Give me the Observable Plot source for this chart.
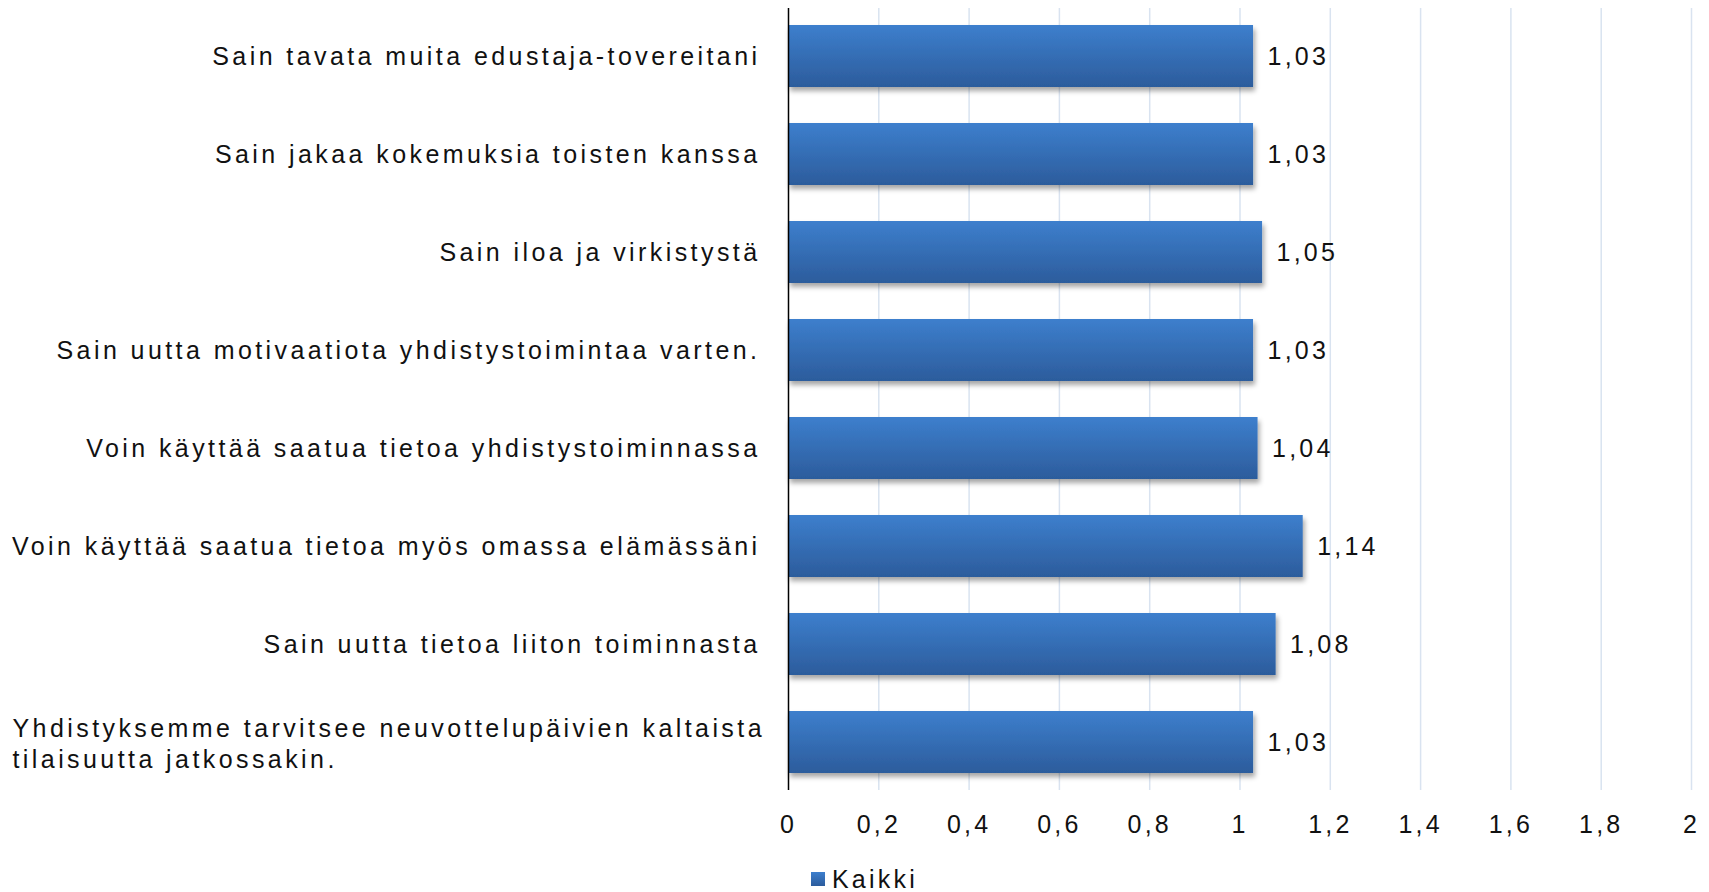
<!DOCTYPE html>
<html>
<head>
<meta charset="utf-8">
<script src="https://cdn.jsdelivr.net/npm/d3@7"></script>
<script src="https://cdn.jsdelivr.net/npm/@observablehq/plot@0.6"></script>
<style>
  html, body { margin: 0; padding: 0; background: #fff; }
  body { width: 1709px; height: 892px; overflow: hidden; position: relative;
         font-family: "Liberation Sans", Arial, sans-serif; }
  #legend { position: absolute; left: 811px; top: 864px; height: 30px;
            display: flex; align-items: center; font-size: 25px; letter-spacing: 3.2px; color: #111; }
  #legend .sw { width: 14px; height: 14px; margin-right: 7px;
                background: linear-gradient(#3d7fcd, #2c5c9c); }
</style>
</head>
<body>
<div id="chart"></div>
<div id="legend"><span class="sw"></span><span>Kaikki</span></div>
<script>
const categories = [
  "Sain tavata muita edustaja-tovereitani",
  "Sain jakaa kokemuksia toisten kanssa",
  "Sain iloa ja virkistystä",
  "Sain uutta motivaatiota yhdistystoimintaa varten.",
  "Voin käyttää saatua tietoa yhdistystoiminnassa",
  "Voin käyttää saatua tietoa myös omassa elämässäni",
  "Sain uutta tietoa liiton toiminnasta",
  "Yhdistyksemme tarvitsee neuvottelupäivien kaltaista\ntilaisuutta jatkossakin."
];
const values = [1.03, 1.03, 1.05, 1.03, 1.04, 1.14, 1.08, 1.03];
const xTicks = [0, 0.2, 0.4, 0.6, 0.8, 1, 1.2, 1.4, 1.6, 1.8, 2];
const seriesName = "Kaikki";

const data = categories.map((c, i) => ({label: c, value: values[i]}));
const fmtComma = v => String(v).replace(".", ",");
const fmtVal = v => d3.format(".2f")(v).replace(".", ",");
const single = data.filter(d => !d.label.includes("\n"));
const multi = data.filter(d => d.label.includes("\n"));

const W = 1709, H = 850, ML = 788, MR = 18, MT = 8, MB = 60;
const FS = 25;

const chart = Plot.plot({
  width: W,
  height: H,
  marginLeft: ML,
  marginRight: MR,
  marginTop: MT,
  marginBottom: MB,
  style: {fontFamily: "'Liberation Sans', Arial, sans-serif", fontSize: FS + "px", color: "#111", background: "#fff"},
  x: {domain: [0, 2], axis: null, label: null},
  y: {domain: categories, paddingInner: 0.365, paddingOuter: 0.17, axis: null, label: null},
  marks: [
    Plot.ruleX(xTicks.filter(t => t !== 0), {stroke: "#d9e3f0", strokeWidth: 1.5}),
    Plot.barX(data, {x: "value", y: "label", fill: "url(#barGrad)"}),
    Plot.ruleX([0], {stroke: "#000", strokeWidth: 1.5}),
    Plot.text(data, {x: "value", y: "label", text: d => fmtVal(d.value), textAnchor: "start", dx: 14, fill: "#111", fontSize: FS}),
    Plot.text(single, {y: "label", text: "label", frameAnchor: "left", textAnchor: "end", dx: -28, fill: "#111", fontSize: FS, className: "cat"}),
    Plot.text(multi, {y: "label", text: "label", frameAnchor: "left", textAnchor: "start", dx: -(ML - 12), lineHeight: 1.26, fill: "#111", fontSize: FS, className: "cat"}),
    Plot.axisX(xTicks, {tickSize: 0, tickPadding: 25, tickFormat: fmtComma, fontSize: FS, fill: "#111", label: null})
  ]
});

const svg = d3.select(chart);
svg.selectAll("text").style("letter-spacing", "3.2px");
svg.selectAll(".cat text, text.cat, g.cat text").style("letter-spacing", "3.42px");
const defs = svg.insert("defs", ":first-child");
const g = defs.append("linearGradient").attr("id", "barGrad").attr("x1", 0).attr("y1", 0).attr("x2", 0).attr("y2", 1);
g.append("stop").attr("offset", "0%").attr("stop-color", "#3d7fcd");
g.append("stop").attr("offset", "100%").attr("stop-color", "#2c5c9c");
const f = defs.append("filter").attr("id", "shadow").attr("x", "-5%").attr("y", "-20%").attr("width", "115%").attr("height", "160%");
f.append("feDropShadow").attr("dx", 2).attr("dy", 4).attr("stdDeviation", 2.5).attr("flood-color", "#000").attr("flood-opacity", 0.35);
svg.selectAll("g[aria-label='bar'] rect").attr("filter", "url(#shadow)");

document.getElementById("chart").appendChild(chart);
</script>
</body>
</html>
